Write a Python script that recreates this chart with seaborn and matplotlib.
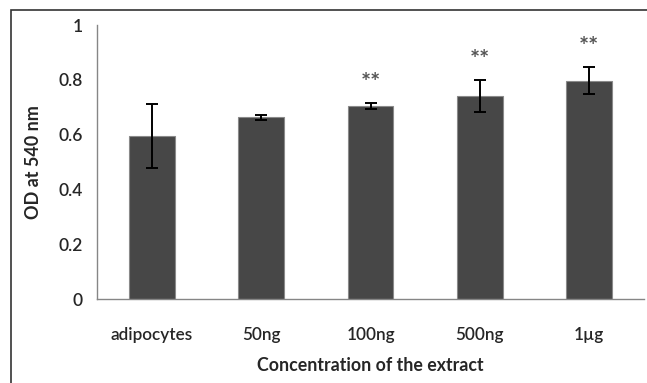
import matplotlib
matplotlib.use("Agg")
import matplotlib.pyplot as plt
import seaborn as sns
import numpy as np
import pandas as pd
from matplotlib.patches import Rectangle

categories = ["adipocytes", "50ng", "100ng", "500ng", "1µg"]
values = [0.595, 0.663, 0.705, 0.742, 0.797]
errors = [0.117, 0.008, 0.010, 0.058, 0.050]
stars = ["", "", "**", "**", "**"]
yticks = [0, 0.2, 0.4, 0.6, 0.8, 1]
yticklabels = ["0", "0.2", "0.4", "0.6", "0.8", "1"]

sns.set_style("white")
plt.rcParams['font.family'] = ['Lato', 'DejaVu Sans']

fig = plt.figure(figsize=(6.47, 3.83), dpi=100)
ax = fig.add_axes([97/647, 1-299/383, (644-97)/647, (299-25)/383])

df = pd.DataFrame({"cat": categories, "val": values})
sns.barplot(data=df, x="cat", y="val", color="#474747", width=0.42,
            edgecolor="#8a8a8a", linewidth=0.8, saturation=1, ax=ax)
ax.errorbar(np.arange(len(categories)), values, yerr=errors, fmt='none',
            ecolor='black', elinewidth=1.4, capsize=4, capthick=1.4, zorder=5)

for i, (v, e, s) in enumerate(zip(values, errors, stars)):
    if s:
        ax.text(i, v + e + 0.07, s, ha='center', va='center', fontsize=17,
                color='#555555', fontweight='bold')

ax.set_xlim(-0.5, len(categories) - 0.5)
ax.set_ylim(0, 1)
ax.set_yticks(yticks)
ax.set_yticklabels(yticklabels, fontsize=12.5, fontweight='semibold')
ax.set_xticks(np.arange(len(categories)))
ax.set_xticklabels(categories, fontsize=12.3, fontweight='semibold')
ax.tick_params(axis='x', length=0, pad=20)
ax.set_xticks(np.arange(len(categories) + 1) - 0.5, minor=True)
ax.tick_params(axis='x', which='minor', direction='out', length=5, color='#868686', width=1)
ax.tick_params(axis='y', direction='out', length=5, color='#868686', width=1, pad=5)

for side in ['top', 'right']:
    ax.spines[side].set_visible(False)
for side in ['left', 'bottom']:
    ax.spines[side].set_color('#868686')
    ax.spines[side].set_linewidth(1)

ax.set_xlabel("Concentration of the extract", fontsize=12.8, fontweight='bold', labelpad=10)
ax.set_ylabel("OD at 540 nm", fontsize=13, fontweight='bold', labelpad=12)

fig.patches.append(Rectangle((11/647, -0.1), 1.2, 1 - 10/383 + 0.1,
                             transform=fig.transFigure, fill=False,
                             edgecolor='#333333', linewidth=1.2))

fig.savefig("out.png", dpi=100)
